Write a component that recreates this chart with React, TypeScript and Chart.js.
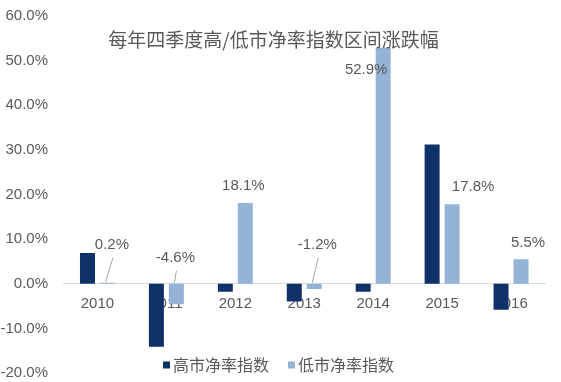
import { useEffect, useRef } from 'react';
import { Chart, registerables } from 'chart.js';

Chart.register(...registerables);

const categories = ['2010', '2011', '2012', '2013', '2014', '2015', '2016'];
const highValues = [6.9, -14.1, -1.8, -4.0, -1.8, 31.2, -5.8];
const lowValues = [0.2, -4.6, 18.1, -1.2, 52.9, 17.8, 5.5];
const yMin = -20;
const yMax = 60;
const yStep = 10;
const seriesNames = ['高市净率指数', '低市净率指数'];
const titleText = '每年四季度高/低市净率指数区间涨跌幅';

const DARK = '#0f3168';
const LIGHT = '#95b3d7';
const TEXT = '#595959';
const FONT = "'Liberation Sans', 'Noto Sans CJK SC', sans-serif";
const CJK_FONT = "'Noto Sans CJK SC', sans-serif";

// label placement (style only): offset of label centre from the top-centre of the low-index bar
const labelOffsets = [
  { dx: 4.5, dy: -38, leader: true },
  { dx: -1, dy: -26, leader: true },
  { dx: -2, dy: -17, leader: false },
  { dx: 3, dy: -39, leader: true },
  { dx: -17, dy: 22, leader: false },
  { dx: 21, dy: -17, leader: false },
  { dx: 7, dy: -16, leader: false },
];

const overlayPlugin = {
  id: 'overlay',
  afterDatasetsDraw(chart: any) {
    const ctx = chart.ctx;
    const meta = chart.getDatasetMeta(1);
    ctx.save();
    ctx.font = `15px ${FONT}`;
    ctx.fillStyle = TEXT;
    ctx.textAlign = 'center';
    ctx.textBaseline = 'middle';
    meta.data.forEach((bar: any, i: number) => {
      const { x, y, base } = bar.getProps(['x', 'y', 'base'], true);
      const top = Math.min(y, base);
      const off = labelOffsets[i];
      const lx = x + off.dx;
      const ly = top + off.dy;
      ctx.fillText(lowValues[i].toFixed(1) + '%', lx, ly);
      if (off.leader) {
        ctx.strokeStyle = '#a6a6a6';
        ctx.lineWidth = 1;
        ctx.beginPath();
        ctx.moveTo(lx + 1, ly + 13);
        ctx.lineTo(x - 2, top - 1);
        ctx.stroke();
      }
    });
    // title
    ctx.font = `19px ${CJK_FONT}`;
    ctx.fillStyle = TEXT;
    ctx.textAlign = 'center';
    ctx.fillText(titleText, chart.width / 2 - 7, 40);
    ctx.restore();
  },
  afterDraw(chart: any) {
    const ctx = chart.ctx;
    ctx.save();
    ctx.font = `16px ${CJK_FONT}`;
    ctx.textBaseline = 'middle';
    ctx.textAlign = 'left';
    const box = 7;
    const gapBox = 3;
    const gapItem = 19;
    const colors = [DARK, LIGHT];
    const widths = seriesNames.map((n) => box + gapBox + ctx.measureText(n).width);
    const total = widths[0] + widths[1] + gapItem;
    let cx = chart.width / 2 - total / 2 - 2;
    const cy = 365;
    seriesNames.forEach((n, i) => {
      ctx.fillStyle = colors[i];
      ctx.fillRect(cx, cy - box / 2, box, box);
      ctx.fillStyle = TEXT;
      ctx.fillText(n, cx + box + gapBox, cy);
      cx += widths[i] + gapItem;
    });
    ctx.restore();
  },
};

const zeroPad = (s: any) => {
  s.paddingTop = 0;
  s.paddingBottom = 0;
  s.paddingLeft = 0;
  s.paddingRight = 0;
};

export default function App() {
  const ref = useRef<HTMLCanvasElement | null>(null);
  useEffect(() => {
    document.body.style.margin = '0';
    const canvas = ref.current;
    if (!canvas) return;
    const chart = new Chart(canvas, {
      type: 'bar',
      data: {
        labels: categories,
        datasets: [
          {
            label: seriesNames[0],
            data: highValues,
            backgroundColor: DARK,
            categoryPercentage: 0.58,
            barPercentage: 0.75,
          },
          {
            label: seriesNames[1],
            data: lowValues,
            backgroundColor: LIGHT,
            categoryPercentage: 0.58,
            barPercentage: 0.75,
          },
        ],
      },
      options: {
        responsive: false,
        animation: false,
        devicePixelRatio: 1,
        layout: { padding: { top: 16, bottom: 9, left: 0, right: 15.5 } },
        plugins: {
          legend: { display: false },
          title: { display: false },
          tooltip: { enabled: false },
        },
        scales: {
          x: {
            position: { y: 0 } as any,
            grid: { display: false, drawTicks: false },
            border: { display: true, color: '#d9d9d9', width: 1 },
            afterFit: (s: any) => {
              zeroPad(s);
            },
            ticks: { color: TEXT, font: { size: 15, family: FONT }, padding: 11, maxRotation: 0 },
          },
          y: {
            min: yMin,
            max: yMax,
            grid: { display: false, drawTicks: false },
            border: { display: false },
            afterFit: (s: any) => {
              s.width = 63;
              zeroPad(s);
            },
            ticks: {
              stepSize: yStep,
              color: TEXT,
              font: { size: 15, family: FONT },
              padding: 15,
              callback: (v: any) => Number(v).toFixed(1) + '%',
            },
          },
        },
      },
      plugins: [overlayPlugin],
    });
    return () => chart.destroy();
  }, []);
  return <canvas ref={ref} width={561} height={382} style={{ display: 'block' }} />;
}
